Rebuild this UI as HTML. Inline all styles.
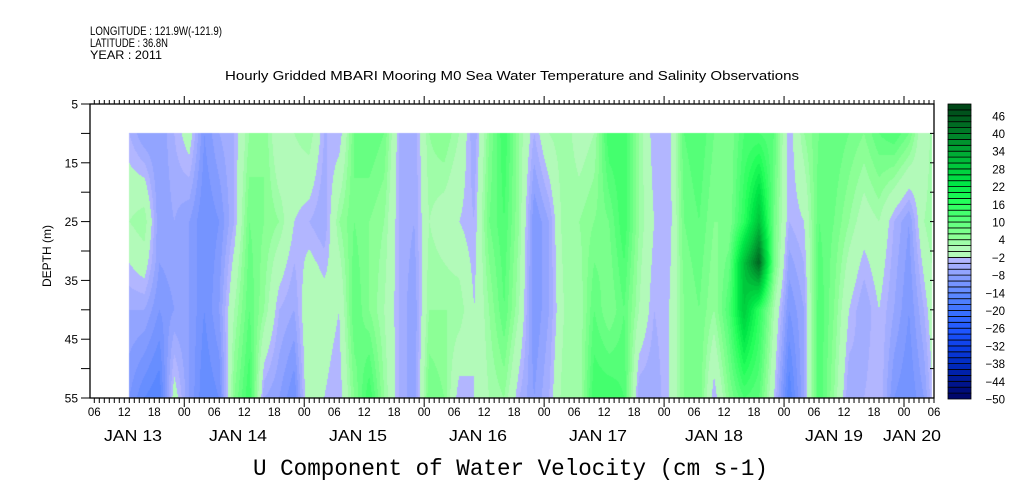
<!DOCTYPE html>
<html><head><meta charset="utf-8"><style>
html,body{margin:0;padding:0;background:#fff;width:1009px;height:504px;overflow:hidden}
#wrap{position:relative;width:1009px;height:504px}
canvas,svg{position:absolute;left:0;top:0}
text{font-family:"Liberation Sans",sans-serif;fill:#000}
</style></head><body>
<div id="wrap">
<canvas id="hm" width="1009" height="504"></canvas>
<svg id="ov" width="1009" height="504">
<text x="90" y="35" font-size="12" textLength="132" lengthAdjust="spacingAndGlyphs">LONGITUDE : 121.9W(-121.9)</text>
<text x="90" y="47" font-size="12" textLength="78" lengthAdjust="spacingAndGlyphs">LATITUDE : 36.8N</text>
<text x="90" y="59" font-size="12" textLength="72" lengthAdjust="spacingAndGlyphs">YEAR : 2011</text>
<text x="225" y="80" font-size="12.5" textLength="574" lengthAdjust="spacingAndGlyphs">Hourly Gridded MBARI Mooring M0 Sea Water Temperature and Salinity Observations</text>
<text x="253" y="475" font-size="23" textLength="515" lengthAdjust="spacingAndGlyphs" style="font-family:'Liberation Mono',monospace">U Component of Water Velocity (cm s-1)</text>
<text transform="translate(51,256) rotate(-90)" text-anchor="middle" font-size="12" textLength="62" lengthAdjust="spacingAndGlyphs">DEPTH (m)</text>
<g id="axes"></g>
<g id="cbar"></g>
</svg>
</div>
<script>
// ---- data (cm/s), columns every 3 hours starting Jan 13 13:00 ----
const startHour = 13;      // hours after Jan 13 00:00
const stepHours = 3;
const depths = [10, 25, 32, 40, 55];
const d10 = [-4,-8,-8,-4,0,-10,-6,-4,4,6,-2,2,4,-4,-4,8,10,8,-4,-6,4,6,2,-6,6,14,4,-4,2,4,0,2,14,14,4,-4,-4,10,12,8,6,12,12,10,-4,4,8,10,8,6,10,12,8,-2,8];
const d25 = [2,4,-8,-6,-8,-12,-10,-4,8,6,4,-2,-4,-6,4,8,6,4,-4,-6,2,0,-2,-4,8,12,4,-10,-6,4,4,6,8,14,4,-2,-4,8,10,6,6,16,30,8,-4,-2,10,8,4,0,2,-4,-8,2,6];
const d32 = [-2,0,-8,-7,-8,-12,-9,-1,9,5,0,-4,-1,-3,1,9,6,3,-4,-7,3,2,1,-3,6,11,3,-10,-6,3,3,8,7,12,3,-3,-3,7,9,5,9,30,44,8,-7,-4,11,7,1,-3,0,-5,-9,-1,5];
const d40 = [-6,-6,-10,-8,-8,-12,-8,2,10,4,-4,-6,2,0,-2,10,6,2,-4,-8,4,4,4,-2,4,10,2,-10,-6,2,2,10,6,10,2,-4,-2,6,8,4,12,28,16,2,-10,-6,12,6,-2,-6,-2,-6,-10,-4,4];
const d55 = [-10,-14,-16,0,-8,-14,-12,6,14,-6,-8,-12,2,-2,-4,6,14,4,-4,-8,8,6,-4,-2,2,4,-4,-8,-4,4,2,14,14,12,-6,-6,-2,6,8,-4,6,12,10,-2,-16,-6,12,4,-6,-4,-2,-10,-12,-8,2];
const rows = [d10, d25, d32, d40, d55];
const cbarLabels = [-50,-44,-38,-32,-26,-20,-14,-8,-2,4,10,16,22,28,34,40,46];
const depthTicks = [5,15,25,35,45,55];
const hourLabels = ["00","06","12","18"];
const dayLabels = ["JAN 13","JAN 14","JAN 15","JAN 16","JAN 17","JAN 18","JAN 19","JAN 20"];

// ---- axes ----
const PL=90, PR=934, PT=104, PB=398;
const tMin=5.14, tMax=174, dMin=5, dMax=55;
const xs = t => PL + (t - tMin) * (PR-PL)/(tMax-tMin);
const ys = d => PT + (d - dMin) * (PB-PT)/(dMax-dMin);

// colormap: 50 levels from -50 to 50
const anchors = [[-50,[0,0,90]],[-44,[0,20,140]],[-38,[0,40,185]],[-32,[10,60,225]],[-26,[30,85,255]],[-20,[55,110,255]],[-14,[90,135,255]],[-8,[130,155,255]],[-2,[178,182,255]],
 [0,[178,250,185]],[4,[140,255,150]],[10,[85,255,120]],[16,[35,255,90]],[22,[0,230,70]],[28,[0,200,60]],[34,[0,160,50]],[40,[0,120,38]],[46,[0,82,28]],[50,[0,60,20]]];
function levelColor(i){
  const v = -50 + 2*i + (i>=25 ? 0 : 2);
  for(let a=0;a<anchors.length-1;a++){
    const [v0,c0]=anchors[a],[v1,c1]=anchors[a+1];
    if(v>=v0 && v<=v1){const f=(v-v0)/(v1-v0);return c0.map((c,j)=>Math.round(c+(c1[j]-c)*f));}
  }
  return v<0?anchors[0][1]:anchors[anchors.length-1][1];
}
const levelColors = [];
for(let i=0;i<50;i++) levelColors.push(levelColor(i));
function colorOf(v){let i=Math.floor((v+50)/2);i=Math.max(0,Math.min(49,i));return levelColors[i];}

// ---- heatmap ----
const cv=document.getElementById('hm'),ctx=cv.getContext('2d');
const ncol=d10.length;
const x0=Math.round(xs(startHour)), x1=Math.min(PR-2, Math.round(xs(startHour+stepHours*(ncol-1))));
const y0=Math.round(ys(depths[0])), y1=Math.round(ys(depths[depths.length-1]));
const img=ctx.createImageData(x1-x0,y1-y0);
for(let py=y0;py<y1;py++){
  const d=dMin+(py+0.5-PT)*(dMax-dMin)/(PB-PT);
  let r=0; while(r<depths.length-2 && d>depths[r+1]) r++;
  const fd=Math.max(0,Math.min(1,(d-depths[r])/(depths[r+1]-depths[r])));
  for(let px=x0;px<x1;px++){
    const t=tMin+(px+0.5-PL)*(tMax-tMin)/(PR-PL);
    let k=(t-startHour)/stepHours; k=Math.max(0,Math.min(ncol-1.0001,k));
    const k0=Math.floor(k),fk=k-k0;
    const a=rows[r][k0]*(1-fk)+rows[r][k0+1]*fk;
    const b=rows[r+1][k0]*(1-fk)+rows[r+1][k0+1]*fk;
    const c=colorOf(a*(1-fd)+b*fd);
    const o=((py-y0)*(x1-x0)+(px-x0))*4;
    img.data[o]=c[0];img.data[o+1]=c[1];img.data[o+2]=c[2];img.data[o+3]=255;
  }
}
ctx.putImageData(img,x0,y0);

// ---- axes drawing ----
const NS='http://www.w3.org/2000/svg';
function mk(tag,attrs,parent,txt){const e=document.createElementNS(NS,tag);for(const k in attrs)e.setAttribute(k,attrs[k]);if(txt!==undefined)e.textContent=txt;parent.appendChild(e);return e;}
const ax=document.getElementById('axes');
const frame=mk('rect',{x:PL,y:PT,width:PR-PL,height:PB-PT,fill:'none',stroke:'#000','stroke-width':1.3},ax);


for(let t=6;t<=174;t++){
  const x=xs(t), major=(t%24===0);
  const len=major?9:5;
  const tb=mk('line',{x1:x,x2:x,y1:PB,y2:PB+len,stroke:'#000','stroke-width':1},ax);
  
  
  const tt=mk('line',{x1:x,x2:x,y1:PT,y2:PT-len+1,stroke:'#000','stroke-width':1},ax);
  
  
  if(t%6===0){
    const lb=mk('text',{x:x,y:PB+18,'font-size':11.5,'text-anchor':'middle'},ax,hourLabels[(t%24)/6]);
    
    
  }
}
dayLabels.forEach((s,i)=>{
  let x = i===0 ? 104 : 209+120*(i-1)-4*(i>4?1:0);
  if(i===dayLabels.length-1) x=883;
  const e=mk('text',{x:x,y:441,'font-size':16,textLength:58,lengthAdjust:'spacingAndGlyphs'},ax,s);
  
  
});
for(let d=5;d<=55;d+=5){
  const y=ys(d);
  const tl=mk('line',{x1:PL-9,x2:PL,y1:y,y2:y,stroke:'#000','stroke-width':1},ax);
  
  
  const tr=mk('line',{x1:PR-4,x2:PR,y1:y,y2:y,stroke:'#000','stroke-width':1},ax);
  
  
}
depthTicks.forEach(d=>{
  const e=mk('text',{x:78,y:ys(d)+4.5,'font-size':12,'text-anchor':'end'},ax,String(d));
  
  
});

// ---- colorbar ----
const cb=document.getElementById('cbar');
const CBX=948,CBW=23,CBB=399,CBT=104,bh=(CBB-CBT)/50;
for(let i=0;i<50;i++){
  const c=levelColors[i];
  const r=mk('rect',{x:CBX,y:CBB-(i+1)*bh,width:CBW,height:bh,fill:`rgb(${c[0]},${c[1]},${c[2]})`,stroke:'#000','stroke-width':0.8},cb);
  
  
}
cbarLabels.forEach(v=>{
  const y=CBB-((v+50)/2)*bh;
  const e=mk('text',{x:1005,y:y+4.5,'font-size':11.5,'text-anchor':'end'},cb,v<0?'\u2212'+(-v):String(v));
  
  
});
</script>
</body></html>
